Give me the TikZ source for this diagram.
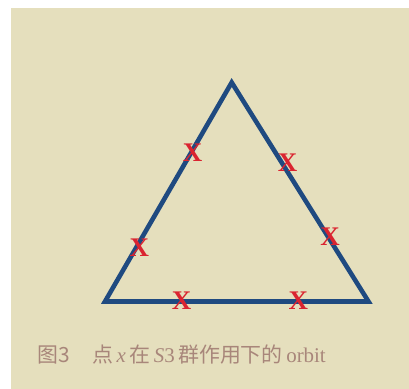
\documentclass[tikz,border=0pt]{standalone}
\usepackage{fontspec}
\setmainfont{Liberation Serif}
\newfontfamily\cjk{Noto Sans CJK SC}
\definecolor{bgbeige}{HTML}{E5DFBD}
\definecolor{triblue}{HTML}{1F4A80}
\definecolor{markred}{HTML}{DA2430}
\definecolor{captext}{HTML}{A8867A}
\tikzset{
  xmark/.style={text=markred, inner sep=0pt, font=\fontsize{27}{27}\selectfont\bfseries},
  capt/.style={text=captext, inner sep=0pt, anchor=base west},
  edge/.style={draw=triblue, line width=4.6bp, line join=miter}
}
\begin{document}
\begin{tikzpicture}[x=1bp,y=-1bp]
\useasboundingbox (0,0) rectangle (409,389);
\fill[bgbeige] (11,8) rectangle (409,389);
\coordinate (A) at (231.7,82.5);
\coordinate (B) at (105,301.5);
\coordinate (C) at (368.5,301.5);
\draw[edge] (A) -- (B) -- (C) -- cycle;
\node[xmark] (x1) at (192.7,152.7) {X};
\node[xmark] (x2) at (139.3,247.3) {X};
\node[xmark] (x3) at (287.7,162.7) {X};
\node[xmark] (x4) at (330,236.7) {X};
\node[xmark] (x5) at (181.7,300.7) {X};
\node[xmark] (x6) at (298.3,300.7) {X};
\node[capt, font=\fontsize{21}{21}\selectfont] (fig) at (37,362) {\cjk 图3};
\node[capt, font=\fontsize{21}{21}\selectfont] (cap) at (92,362) {{\cjk 点}\,\textit{x}\,{\cjk 在}\,\textit{S}3\,{\cjk 群作用下的}\,orbit};
\end{tikzpicture}
\end{document}
